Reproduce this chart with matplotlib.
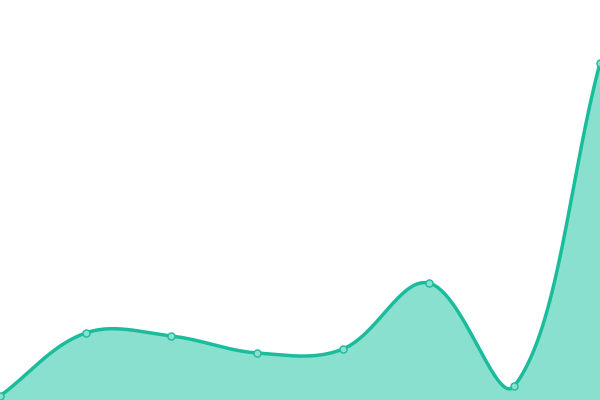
import numpy as np
import matplotlib.pyplot as plt

x = [0, 1, 2, 3, 4, 5, 6, 7]
vals = [4, 67, 64, 47, 51, 117, 14, 337]

line_col = '#1abc9c'
fill_col = '#8ae0cf'


def spline(xs, ys, sx=600 / 7, tension=0.36, n=60):
    # bezier spline with control points scaled by neighbour distances
    px = np.asarray(xs, float) * sx
    py = np.asarray(ys, float)
    k = len(px)
    prev_c, next_c = [], []
    for i in range(k):
        a = i - 1 if i > 0 else i
        b = i + 1 if i < k - 1 else i
        d01 = np.hypot(px[i] - px[a], py[i] - py[a])
        d12 = np.hypot(px[b] - px[i], py[b] - py[i])
        tot = d01 + d12
        fa = tension * d01 / tot if tot else 0
        fb = tension * d12 / tot if tot else 0
        dx, dy = px[b] - px[a], py[b] - py[a]
        prev_c.append((px[i] - fa * dx, py[i] - fa * dy))
        next_c.append((px[i] + fb * dx, py[i] + fb * dy))
    outx, outy = [], []
    t = np.linspace(0, 1, n, endpoint=False)[:, None]
    for i in range(k - 1):
        p0 = np.array([px[i], py[i]])
        p1 = np.array(next_c[i])
        p2 = np.array(prev_c[i + 1])
        p3 = np.array([px[i + 1], py[i + 1]])
        c = (1 - t)**3 * p0 + 3 * (1 - t)**2 * t * p1 + 3 * (1 - t) * t**2 * p2 + t**3 * p3
        outx.append(c[:, 0])
        outy.append(c[:, 1])
    outx.append([px[-1]])
    outy.append([py[-1]])
    return np.concatenate(outx) / sx, np.concatenate(outy)


cx, cy = spline(x, vals)

fig = plt.figure(figsize=(6, 4), dpi=100)
ax = fig.add_axes([0, 0, 1, 1])
ax.fill_between(cx, cy, 0, color=fill_col, lw=0)
ax.plot(cx, cy, color=line_col, lw=2.5, solid_capstyle='round')
ax.scatter(x, vals, s=26, facecolor=fill_col, edgecolor=line_col, lw=1, zorder=3)
ax.set_xlim(0, 7)
ax.set_ylim(0, 400)
ax.axis('off')
fig.savefig('out.png', dpi=100)
